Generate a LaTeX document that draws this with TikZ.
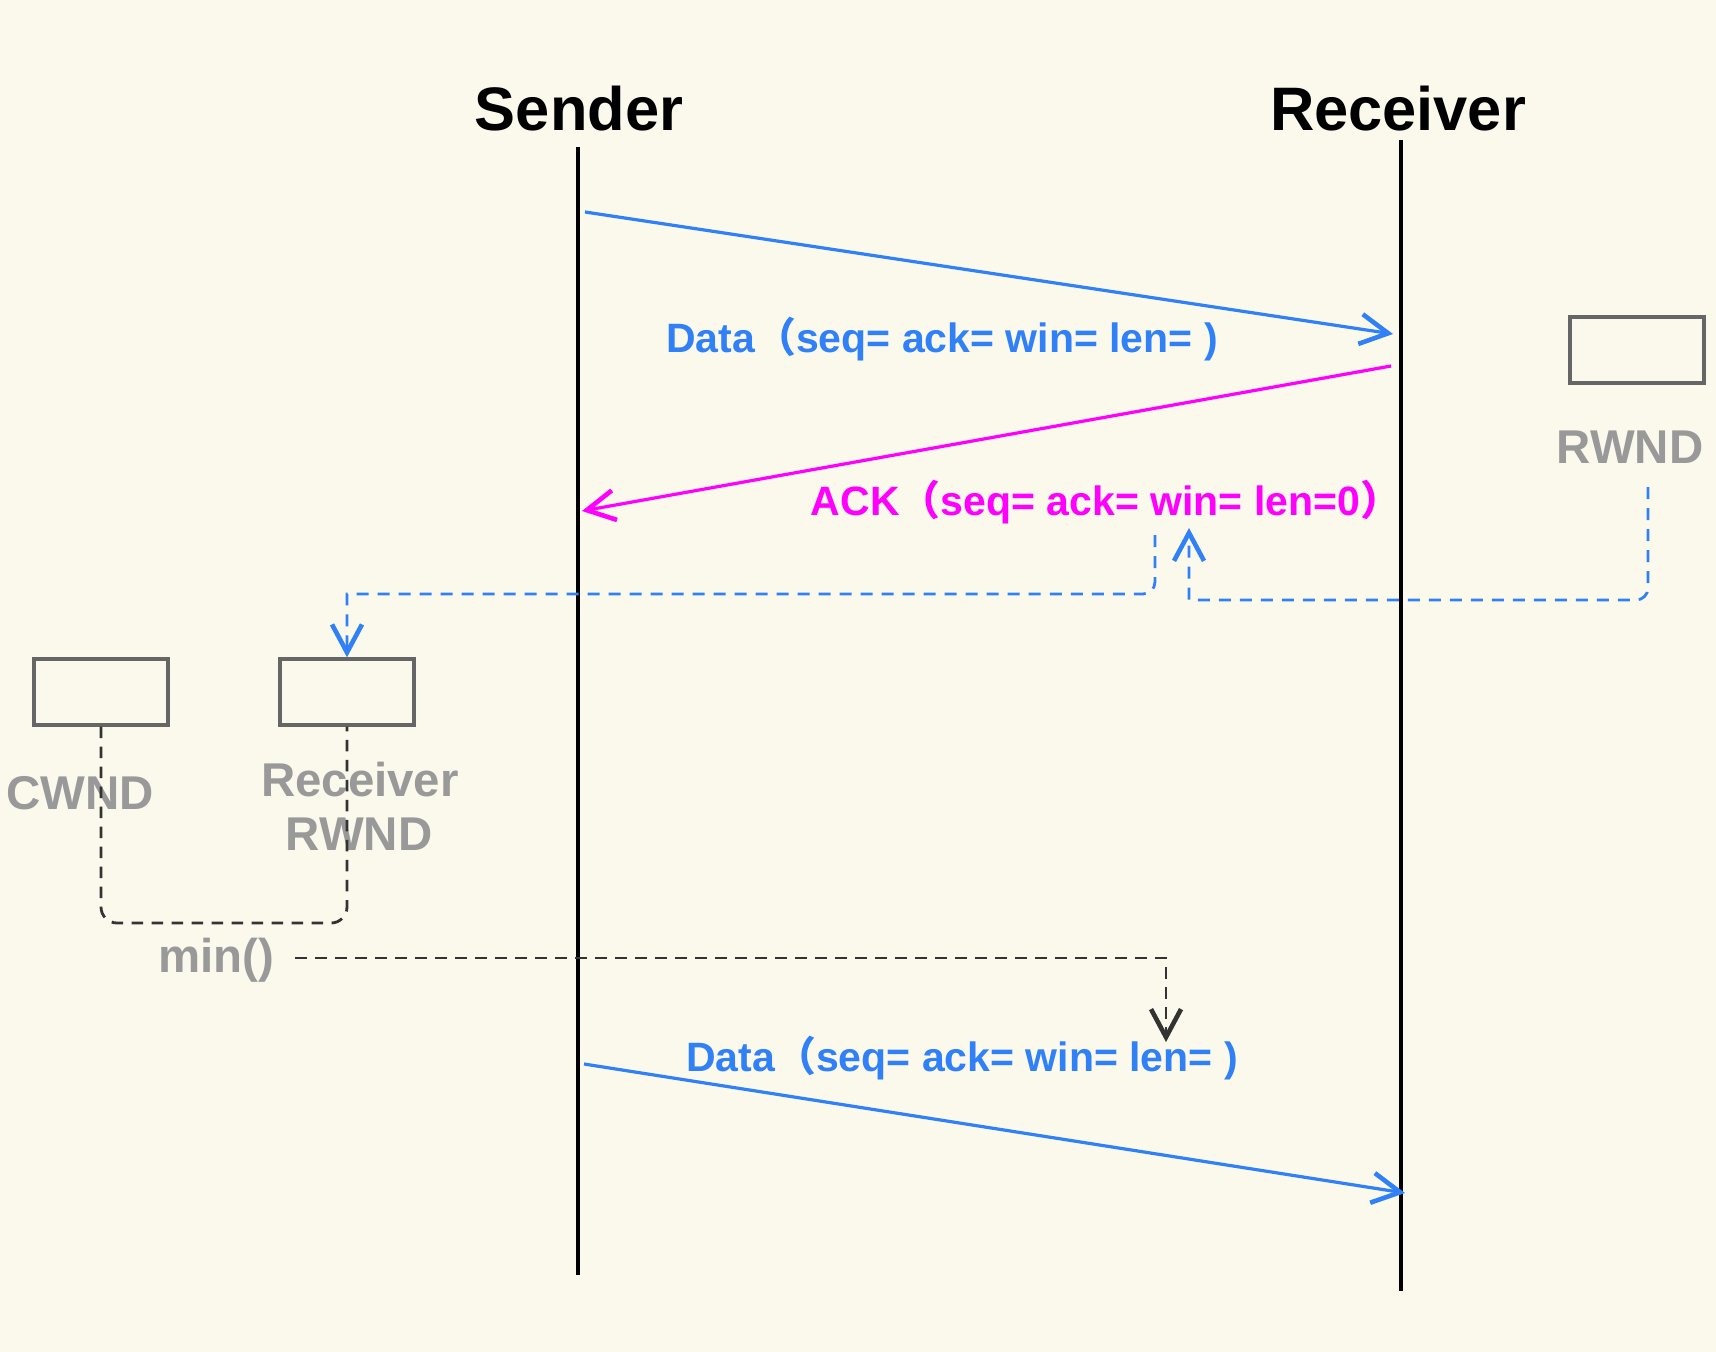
\documentclass[tikz,border=0pt]{standalone}
\usepackage{fontspec}
\setmainfont{Liberation Sans}
\newfontfamily\cjk{Noto Sans CJK SC}
\usetikzlibrary{arrows.meta}
\definecolor{bgc}{RGB}{251,249,236}
\definecolor{bluec}{RGB}{48,128,248}
\definecolor{magc}{RGB}{255,0,255}
\definecolor{grayt}{RGB}{153,153,153}
\definecolor{boxc}{RGB}{102,102,102}
\definecolor{dashk}{RGB}{51,51,51}
\newcommand{\flp}{{\cjk （}}
\newcommand{\frp}{{\cjk ）}}
\tikzset{openv/.tip={Straight Barb[length=14pt,width=15pt,line width=2.3pt]}}
\begin{document}
\begin{tikzpicture}[x=0.5pt,y=-0.5pt,
  title/.style={font=\bfseries\fontsize{30.7}{36}\selectfont, anchor=base, inner sep=0},
  msg/.style={font=\bfseries\fontsize{20.5}{24}\selectfont, anchor=base, inner sep=0},
  glabel/.style={font=\bfseries\fontsize{23.7}{28}\selectfont, text=grayt, anchor=base, inner sep=0},
  wbox/.style={draw=boxc, line width=1.7pt, minimum width=67pt, minimum height=33pt, inner sep=0},
  life/.style={line width=1.8pt, black},
  bmsg/.style={line width=1.6pt, bluec, -openv},
  mmsg/.style={line width=1.6pt, magc, -openv},
  bdash/.style={line width=1.4pt, bluec, dash pattern=on 6pt off 4.5pt, -openv},
  kdash/.style={line width=1.4pt, dashk, dash pattern=on 5.75pt off 4.25pt}
]
\fill[bgc] (0,0) rectangle (1716,1352);
\useasboundingbox (0,0) rectangle (1716,1352);

% titles and lifelines
\node[title] (sender) at (579,131) {Sender};
\node[title] (receiver) at (1398,131) {Receiver};
\coordinate (stop) at (578,147);
\coordinate (sbot) at (578,1275);
\coordinate (rtop) at (1401,140);
\coordinate (rbot) at (1401,1291);
\draw[life] (stop) -- (sbot);
\draw[life] (rtop) -- (rbot);

% messages
\coordinate (d1s) at (585,212);
\coordinate (d1e) at (1393,334);
\coordinate (a1s) at (1391,366);
\coordinate (a1e) at (582,511);
\coordinate (d2s) at (584,1064);
\coordinate (d2e) at (1405,1193);
\draw[bmsg] (d1s) -- (d1e);
\draw[mmsg] (a1s) -- (a1e);
\draw[bmsg] (d2s) -- (d2e);

\node[msg, text=bluec] (data1) at (942,353) {Data\flp seq= ack= win= len= )};
\node[msg, text=magc] (ack) at (1106,515) {ACK\flp seq= ack= win= len=0\frp};
\node[msg, text=bluec] (data2) at (962,1071) {Data\flp seq= ack= win= len= )};

% boxes
\node[wbox] (rwndbox) at (1637,350) {};
\node[wbox] (cwndbox) at (101,692) {};
\node[wbox] (rrbox) at (347,692) {};

% grey labels
\node[glabel] (rwnd) at (1630,464) {RWND};
\node[glabel] (cwnd) at (80,809) {CWND};
\node[glabel] (rr1) at (360,796) {Receiver};
\node[glabel] (rr2) at (359,850) {RWND};
\node[glabel] (minf) at (216,972) {min()};

% blue dashed feedback
\coordinate (b1a) at (1155,535);
\draw[bdash] (b1a) [rounded corners=6pt] -- (1155,594) [sharp corners] -- (347,594) -- (rrbox.north);
\coordinate (b2a) at (1648,487);
\coordinate (b2e) at (1189,528);
\draw[bdash] (b2a) [rounded corners=6pt] -- (1648,600) [sharp corners] -- (1189,600) -- (b2e);

% black dashed min()
\draw[kdash, rounded corners=8pt] (cwndbox.south) -- (101,923) -- (347,923) -- (rrbox.south);
\coordinate (m1) at (295,958);
\coordinate (m2) at (1166,1042);
\draw[kdash, -openv] (m1) -- (1166,958) -- (m2);
\end{tikzpicture}
\end{document}
